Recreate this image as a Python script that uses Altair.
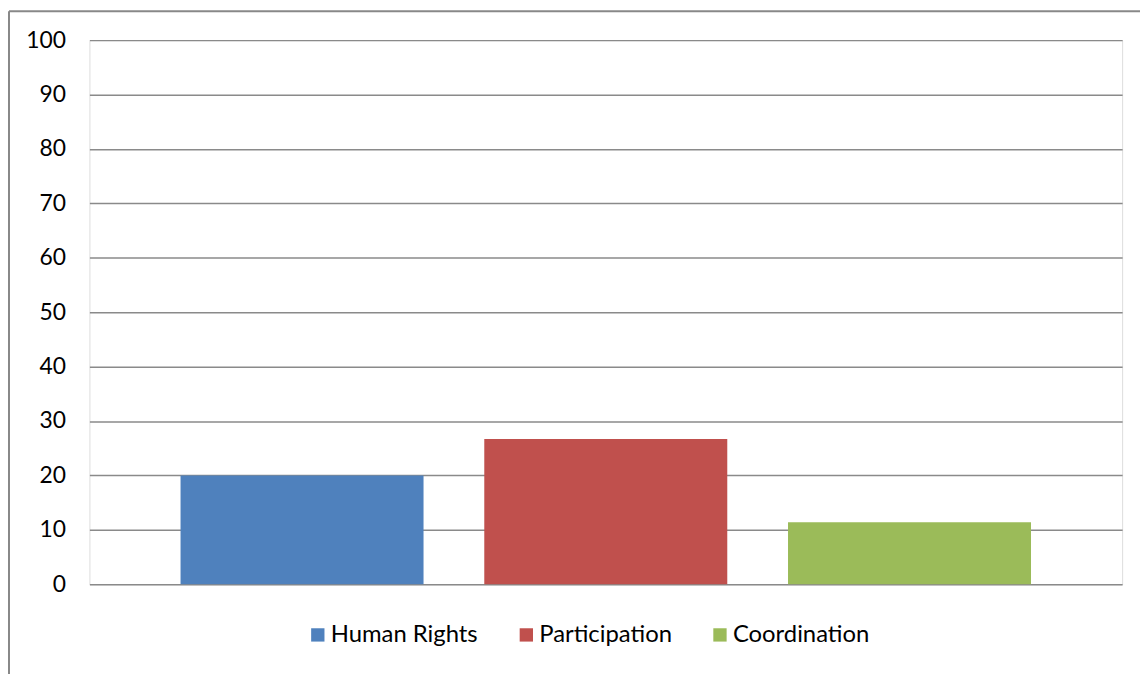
import altair as alt
import pandas as pd

series = ["Human Rights", "Participation", "Coordination"]
values = [20.0, 26.7, 11.4]
colors = ["#4F81BD", "#C0504D", "#9BBB59"]
y_ticks = list(range(0, 101, 10))

df = pd.DataFrame({"series": series, "value": values})
frame_df = pd.DataFrame({"k": [0]})

W, H = 1040, 548
FONT = "Lato"

bars = alt.Chart(df).mark_bar().encode(
    x=alt.X("series:N", sort=series, axis=None,
            scale=alt.Scale(paddingInner=0.2, paddingOuter=0.3)),
    y=alt.Y("value:Q", scale=alt.Scale(domain=[0, 100], nice=False),
            axis=alt.Axis(values=y_ticks, grid=True, gridColor="#8a8a8a", gridWidth=1.5,
                          domain=False, ticks=False, labelPadding=24, labelFont=FONT,
                          labelFontSize=23, labelColor="#000000", title=None)),
    color=alt.Color("series:N", sort=series,
                    scale=alt.Scale(domain=series, range=colors),
                    legend=alt.Legend(orient="none", legendX=218, legendY=587,
                                      direction="horizontal", title=None,
                                      symbolType="square", symbolSize=180,
                                      symbolStrokeWidth=0, labelFont=FONT,
                                      labelFontSize=24, labelColor="#000000",
                                      columnPadding=36, labelOffset=1)),
)

left_line = alt.Chart(frame_df).mark_rule(color="#888888", strokeWidth=2).encode(
    x=alt.value(-81), y=alt.value(-29), y2=alt.value(H + 120)
)
top_line = alt.Chart(frame_df).mark_rule(color="#888888", strokeWidth=2).encode(
    x=alt.value(-81), x2=alt.value(W + 60), y=alt.value(-29)
)

chart = alt.layer(bars, left_line, top_line).properties(
    width=W, height=H,
    autosize=alt.AutoSizeParams(type="none"),
    padding={"left": 82, "top": 30, "right": 18, "bottom": 88},
).configure_view(stroke=None).configure(background="white")

chart.save("out.html", embed_options={"renderer": "svg", "actions": False})
